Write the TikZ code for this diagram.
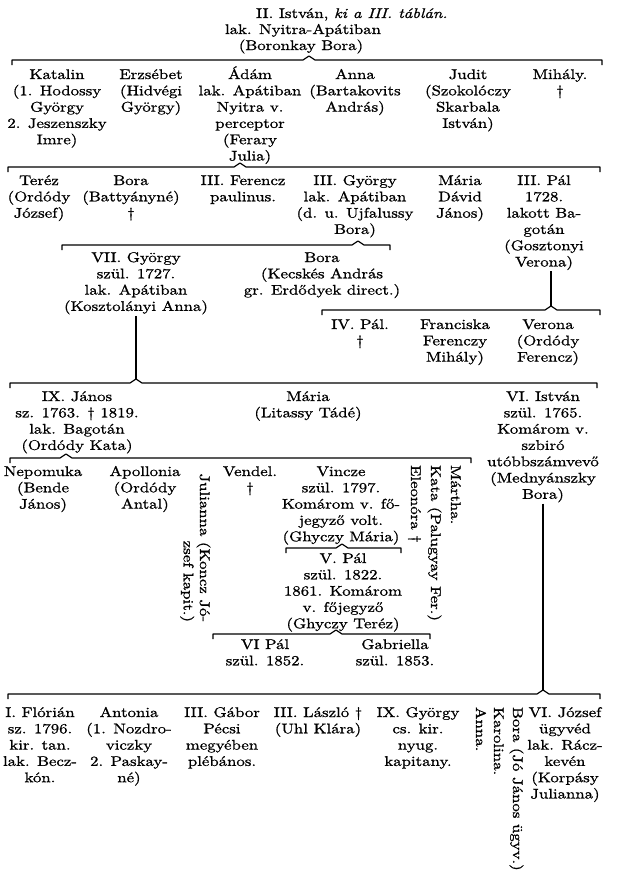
\documentclass[tikz,border=0pt]{standalone}
\usepackage{fontspec}
\setmainfont{lmroman10-regular}[Extension=.otf, ItalicFont=lmroman10-italic, BoldFont=lmroman10-bold, FakeStretch=1.2, FakeBold=1.0]
\newcommand\gtl[1]{\begin{tabular}[t]{@{}c@{}}#1\end{tabular}}
\newcommand\gtr[1]{\begin{tabular}[t]{@{}r@{}}#1\end{tabular}}
\newcommand\famline[3]{\draw[brk] ([yshift=-5pt]#1) -- (#1) -- ([xshift=-6pt]#2) -- ([yshift=4pt]#2) -- ([xshift=6pt]#2) -- (#3) -- ([yshift=-5pt]#3);}
\begin{document}
\begin{tikzpicture}[x=1pt,y=-1pt,
  every node/.style={inner sep=0pt, outer sep=0pt, font=\fontsize{14}{16.3}\selectfont},
  gn/.style={anchor=base},
  rot/.style={rotate=-90, anchor=base west},
  brk/.style={line width=1.2pt, line join=round},
  vl/.style={line width=1.1pt}]
\fill[white] (0,0) rectangle (618,884);

% top
\node[anchor=base west] (t1) at (256,18) {II. István, \textit{ki a III. táblán.}};
\node[gn] (t2) at (303,34) {lak. Nyitra-Apátiban};
\node[gn] (t3) at (301,50) {(Boronkay Bora)};
\coordinate (A1) at (12,60); \coordinate (Ap) at (309,60); \coordinate (A2) at (602,60);
\famline{A1}{Ap}{A2}

% row 1
\node[gn] (katalin) at (57,79) {\gtl{Katalin\\(1. Hodossy\\György\\2. Jeszenszky\\Imre)}};
\node[gn] (erzsebet) at (151,79) {\gtl{Erzsébet\\(Hidvégi\\György)}};
\node[gn] (adam) at (250,79) {\gtl{Ádám\\lak. Apátiban\\Nyitra v.\\perceptor\\(Ferary\\Julia)}};
\node[gn] (anna1) at (355,79) {\gtl{Anna\\(Bartakovits\\András)}};
\node[gn] (judit) at (468,79) {\gtl{Judit\\(Szokolóczy\\Skarbala\\István)}};
\node[gn] (mihaly) at (560,79) {\gtl{Mihály.\\\textdagger}};
\coordinate (B1) at (8,167); \coordinate (Bp) at (240,167); \coordinate (B2) at (600,167);
\famline{B1}{Bp}{B2}

% row 2
\node[gn] (terez) at (39,185) {\gtl{Teréz\\(Ordódy\\József)}};
\node[gn] (bora1) at (131,185) {\gtl{Bora\\(Battyányné)\\\textdagger}};
\node[gn] (ferencz) at (243,185) {\gtl{III. Ferencz\\paulinus.}};
\node[gn] (gy3) at (355,185) {\gtl{III. György\\lak. Apátiban\\(d. u. Ujfalussy\\Bora)}};
\node[gn] (maria1) at (460,185) {\gtl{Mária\\Dávid\\János)}};
\node[gn] (pal3) at (544,185) {\gtl{III. Pál\\1728.\\lakott Ba-\\gotán\\(Gosztonyi\\Verona)}};
\coordinate (C1) at (62,245); \coordinate (Cp) at (358,245); \coordinate (C2) at (390,245);
\famline{C1}{Cp}{C2}

% row 3
\node[gn] (gy7) at (136,262) {\gtl{VII. György\\szül. 1727.\\lak. Apátiban\\(Kosztolányi Anna)}};
\node[gn] (bora2) at (322,262) {\gtl{Bora\\(Kecskés András\\gr. Erdődyek direct.)}};
\coordinate (D1) at (322,310); \coordinate (Dp) at (551,310); \coordinate (D2) at (600,310);
\draw[vl] (pal3.south -| Dp) -- ([yshift=4pt]Dp);
\famline{D1}{Dp}{D2}

% row 4
\node[gn] (pal4) at (360,329) {\gtl{IV. Pál.\\\textdagger}};
\node[gn] (franciska) at (455,329) {\gtl{Franciska\\Ferenczy\\Mihály)}};
\node[gn] (verona) at (548,329) {\gtl{Verona\\(Ordódy\\Ferencz)}};
\coordinate (E1) at (10,383); \coordinate (E2) at (597,383);
\coordinate (Ep) at (gy7.south |- E1);
\draw[vl] (gy7.south) -- ([yshift=4pt]Ep);
\famline{E1}{Ep}{E2}

% row 5
\node[gn] (janos) at (77,401) {\gtl{IX. János\\sz. 1763. \textdagger\ 1819.\\lak. Bagotán\\(Ordódy Kata)}};
\node[gn] (maria2) at (308,401) {\gtl{Mária\\(Litassy Tádé)}};
\node[gn] (ist6) at (543,401) {\gtl{VI. István\\szül. 1765.\\Komárom v.\\szbiró\\utóbbszámvevő\\(Mednyánszky\\Bora)}};
\coordinate (F1) at (10,458); \coordinate (Fp) at (66,458); \coordinate (F2) at (471,458);
\famline{F1}{Fp}{F2}

% row 6
\node[gn] (nepomuka) at (43,476) {\gtl{Nepomuka\\(Bende\\János)}};
\node[gn] (apollonia) at (145,476) {\gtl{Apollonia\\(Ordódy\\Antal)}};
\node[rotate=-90, anchor=base east] (julianna) at (200,622) {\gtr{Julianna (Koncz Jó-\\zsef kapit.)}};
\node[gn] (vendel) at (250,476) {\gtl{Vendel.\\\textdagger}};
\node[gn] (vincze) at (341,476) {\gtl{Vincze\\szül. 1797.\\Komárom v. fő-\\jegyző volt.\\(Ghyczy Mária)}};
\node[rot] (eleonora) at (411,465) {Eleonóra \textdagger};
\node[rot] (kata) at (431,465) {Kata (Palugyay Fer.)};
\node[rot] (martha) at (451,465) {Mártha.};
\coordinate (G1) at (286,548); \coordinate (Gp) at (342,548); \coordinate (G2) at (401,548);
\famline{G1}{Gp}{G2}

\node[gn] (pal5) at (343,563) {\gtl{V. Pál\\szül. 1822.\\1861. Komárom\\v. főjegyző\\(Ghyczy Teréz)}};
\coordinate (H1) at (213,634); \coordinate (Hp) at (336,634); \coordinate (H2) at (430,634);
\famline{H1}{Hp}{H2}

\node[gn] (pal6) at (265,649) {\gtl{VI Pál\\szül. 1852.}};
\node[gn] (gabriella) at (395,649) {\gtl{Gabriella\\szül. 1853.}};

\coordinate (I1) at (8,694); \coordinate (I2) at (600,694);
\coordinate (Ip) at (ist6.south |- I1);
\draw[vl] (ist6.south) -- ([yshift=4pt]Ip);
\famline{I1}{Ip}{I2}

% row 7
\node[gn] (florian) at (40,717) {\gtl{I. Flórián\\sz. 1796.\\kir. tan.\\lak. Becz-\\kón.}};
\node[gn] (antonia) at (129,717) {\gtl{Antonia\\(1. Nozdro-\\viczky\\2. Paskay-\\né)}};
\node[gn] (gabor) at (222,717) {\gtl{III. Gábor\\Pécsi\\megyében\\plébános.}};
\node[gn] (laszlo) at (318,717) {\gtl{III. László \textdagger\\(Uhl Klára)}};
\node[gn] (gy9) at (418,717) {\gtl{IX. György\\cs. kir.\\nyug.\\kapitany.}};
\node[rot] (anna2) at (476,707) {Anna.};
\node[rot] (karolina) at (494,707) {Karolina.};
\node[rot] (bora3) at (513,707) {Bora (Jó János ügyv.)};
\node[gn] (jozsef) at (565,717) {\gtl{VI. József\\ügyvéd\\lak. Rácz-\\kevén\\(Korpásy\\Julianna)}};
\end{tikzpicture}
\end{document}
